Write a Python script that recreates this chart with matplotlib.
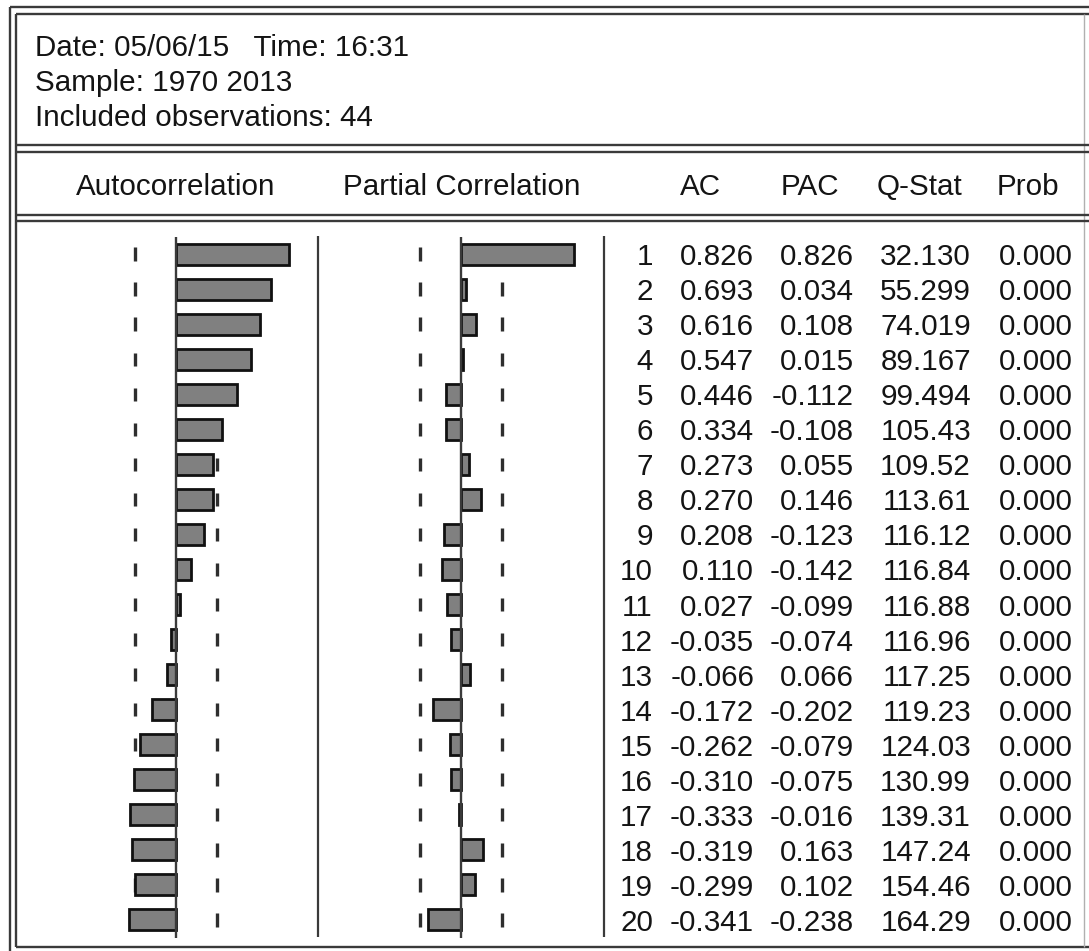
import numpy as np
import matplotlib.pyplot as plt

plt.rcParams['font.family'] = ['Liberation Sans', 'DejaVu Sans']

# correlogram output, 20 lags
lags = list(range(1, 21))
ac = [0.826, 0.693, 0.616, 0.547, 0.446, 0.334, 0.273, 0.270, 0.208, 0.110,
      0.027, -0.035, -0.066, -0.172, -0.262, -0.310, -0.333, -0.319, -0.299, -0.341]
pac = [0.826, 0.034, 0.108, 0.015, -0.112, -0.108, 0.055, 0.146, -0.123, -0.142,
       -0.099, -0.074, 0.066, -0.202, -0.079, -0.075, -0.016, 0.163, 0.102, -0.238]
qstat = ['32.130', '55.299', '74.019', '89.167', '99.494', '105.43', '109.52',
         '113.61', '116.12', '116.84', '116.88', '116.96', '117.25', '119.23',
         '124.03', '130.99', '139.31', '147.24', '154.46', '164.29']
prob = ['0.000'] * 20
header_lines = ['Date: 05/06/15   Time: 16:31',
                'Sample: 1970 2013',
                'Included observations: 44']
n_obs = 44

W, H = 1089, 951
fig = plt.figure(figsize=(W / 100, H / 100), dpi=100)
fig.patch.set_facecolor('white')

# pixel-space canvas for the frame and headings
frame = fig.add_axes([0, 0, 1, 1])
frame.set_xlim(0, W)
frame.set_ylim(H, 0)
frame.axis('off')

line_c = '#3a3a3a'
txt_c = '#141414'
fs = 21.3

def hline(y, x0, x1, lw=1.7, c=line_c):
    frame.plot([x0, x1], [y, y], color=c, lw=lw, solid_capstyle='butt')

def vline(x, y0, y1, lw=1.7, c=line_c):
    frame.plot([x, x], [y0, y1], color=c, lw=lw, solid_capstyle='butt')

# double border
hline(7, 10, W)
hline(14, 16, W)
vline(10, 7, H)
vline(16, 14, 947)
hline(947, 16, W)
vline(1084, 14, 947, lw=1.0, c='#b0b0b0')
for y in (145, 152, 215, 221):
    hline(y, 16, W)

for i, s in enumerate(header_lines):
    frame.text(35, 45 + 35 * i, s, fontsize=fs, color=txt_c, ha='left', va='center_baseline')

for x, s in [(176, 'Autocorrelation'), (462, 'Partial Correlation'), (700, 'AC'),
             (810, 'PAC'), (919, 'Q-Stat'), (1028, 'Prob')]:
    frame.text(x, 184, s, fontsize=fs, color=txt_c, ha='center', va='center_baseline')

# vertical separators between panels
vline(318, 236, 937, lw=1.6)
vline(604, 236, 937, lw=1.6)

# bar panels: 137 px per unit of correlation, 35.05 px per lag
y_top, y_bot = 236.5, 937.5
bottom = (H - y_bot) / H
height = (y_bot - y_top) / H
bound = 2 / np.sqrt(n_obs)

def panel(zero_px, values):
    ax = fig.add_axes([(zero_px - 137) / W, bottom, 274 / W, height])
    ax.set_xlim(-1, 1)
    ax.set_ylim(20.5, 0.5)
    ax.axis('off')
    ax.patch.set_alpha(0)
    for lag in lags:
        ax.vlines([-bound, bound], lag - 0.19, lag + 0.19, color='#2e2e2e', lw=2.4, zorder=1)
    ax.barh(lags, values, height=0.6, color='#808080', edgecolor='#111111',
            linewidth=2.0, zorder=2)
    ax.axvline(0, color=line_c, lw=1.7, zorder=3)
    return ax

panel(176, ac)
panel(461, pac)

# numeric table
tab = fig.add_axes([604 / W, bottom, (W - 604) / W, height])
tab.set_xlim(604, W)
tab.set_ylim(20.5, 0.5)
tab.axis('off')
tab.patch.set_alpha(0)
for i, lag in enumerate(lags):
    row = [(653, str(lag)), (754, f'{ac[i]:.3f}'), (854, f'{pac[i]:.3f}'),
           (971, qstat[i]), (1073, prob[i])]
    for x, s in row:
        tab.text(x, lag, s, fontsize=fs, color=txt_c, ha='right', va='center_baseline')

fig.savefig('out.png', dpi=100, facecolor='white')
